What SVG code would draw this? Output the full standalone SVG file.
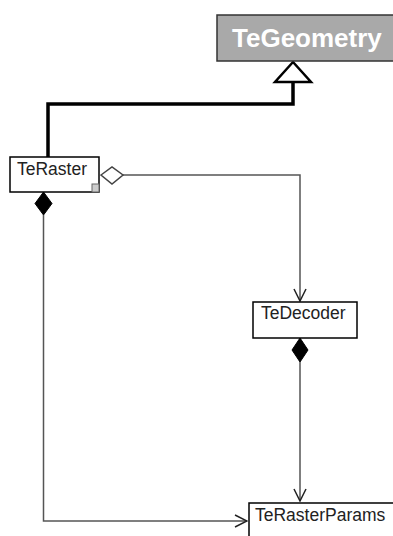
<svg xmlns="http://www.w3.org/2000/svg" width="393" height="536" viewBox="0 0 393 536">
<style>
.box{fill:#fff;stroke:#000;stroke-width:1.5}
.lbl{font-family:"Liberation Sans",Arial,sans-serif;font-size:17.5px;fill:#222}
.thin{fill:none;stroke:#555;stroke-width:1.5}
</style>
<defs>
<marker id="open" viewBox="0 0 14 14" refX="13" refY="7" markerWidth="14" markerHeight="14" markerUnits="userSpaceOnUse" orient="auto">
<path d="M1,1 L13,7 L1,13" fill="none" stroke="#222" stroke-width="1.5"/>
</marker>
</defs>
<rect width="393" height="536" fill="#fff"/>
<g id="connectors">
<path d="M293,82 V104 H48 V157" fill="none" stroke="#000" stroke-width="3.5"/>
<polygon points="293,62 311,82 275,82" fill="#fff" stroke="#000" stroke-width="2.5"/>
<path class="thin" d="M123,175 H300 V301" marker-end="url(#open)"/>
<polygon points="101,175 112,167 123,175 112,184" fill="#fff" stroke="#444" stroke-width="1.5"/>
<path class="thin" d="M43.5,215 V521 H247" marker-end="url(#open)"/>
<polygon points="43.5,192 52,203.5 43.5,215 35,203.5" fill="#000" stroke="#000" stroke-width="1"/>
<path class="thin" d="M300,362 V501" marker-end="url(#open)"/>
<polygon points="300,338 308,350 300,362 292,350" fill="#000" stroke="#000" stroke-width="1"/>
</g>
<g id="TeGeometry">
<rect x="217" y="15" width="190" height="46" fill="#a9a9a9" stroke="#333" stroke-width="1.5"/>
<text x="232" y="47" font-family="'Liberation Sans',Arial,sans-serif" font-size="26" font-weight="bold" fill="#fff">TeGeometry</text>
</g>
<g id="TeRaster">
<rect class="box" x="10" y="157" width="89" height="35"/>
<rect x="92" y="184" width="7" height="8" fill="#ccc" stroke="#666" stroke-width="1"/>
<text class="lbl" x="17" y="175">TeRaster</text>
</g>
<g id="TeDecoder">
<rect class="box" x="253" y="302" width="104" height="36"/>
<text class="lbl" x="261" y="319">TeDecoder</text>
</g>
<g id="TeRasterParams">
<rect class="box" x="249" y="503" width="160" height="40"/>
<text class="lbl" x="255" y="521">TeRasterParams</text>
</g>
</svg>
